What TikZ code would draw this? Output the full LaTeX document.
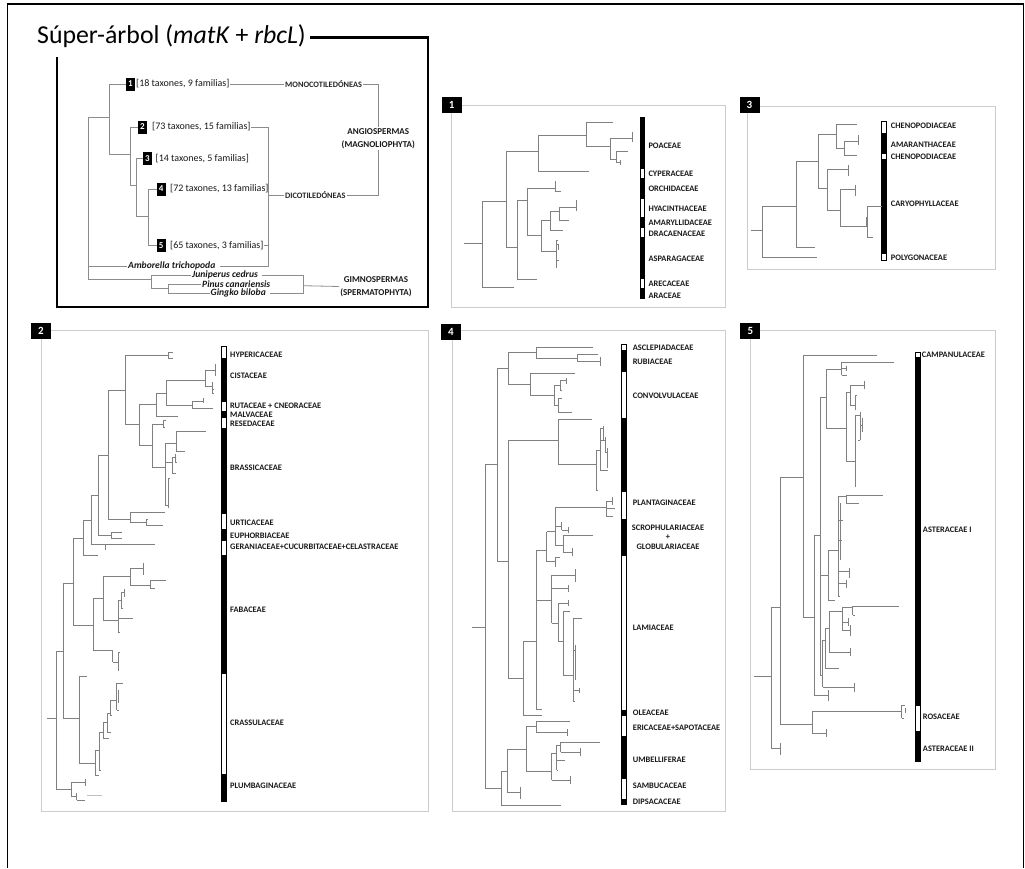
\documentclass[tikz,border=0pt]{standalone}
\usepackage{fontspec}
\setmainfont{Carlito}
\newcommand{\tbr}[5]{\draw[tree] (#3,#2) -| (#1,#4) -- (#5,#4);}
\newcommand{\thl}[3]{\draw[tree] (#2,#1) -- (#3,#1);}
\newcommand{\tvl}[3]{\draw[tree] (#1,#2) -- (#1,#3);}
\tikzset{
 tree/.style={draw=black!50, line width=0.6pt},
 stree/.style={draw=black!45, line width=0.8pt},
 pframe/.style={draw=black!20, line width=0.9pt},
 numbox/.style={fill=black, text=white, font=\bfseries\fontsize{11}{11}\selectfont, minimum width=20pt, minimum height=16pt, inner sep=0pt},
 snum/.style={fill=black, text=white, font=\bfseries\fontsize{9}{9}\selectfont, minimum width=9pt, minimum height=13pt, inner sep=0pt},
 fam/.style={font=\bfseries\fontsize{8.4}{9.5}\selectfont, anchor=west, inner sep=0pt, text=black!90},
 bB/.style={fill=black, draw=black, line width=0.5pt},
 bW/.style={fill=white, draw=black, line width=0.5pt},
 taxa/.style={font=\fontsize{10}{10}\selectfont, anchor=west, inner sep=0.5pt, text=black!90},
 clade/.style={font=\bfseries\fontsize{8.3}{8}\selectfont, inner sep=1pt, text=black!85},
 big/.style={font=\bfseries\fontsize{9}{13}\selectfont, align=center, inner sep=1pt, text=black!90},
 sp/.style={font=\bfseries\itshape\fontsize{9.6}{9.6}\selectfont, inner sep=0pt, anchor=west, text=black!90},
}
\begin{document}
\begin{tikzpicture}[x=1pt,y=-1pt]
\useasboundingbox (0,0) rectangle (1025,868);
\fill[white] (0,0) rectangle (1025,868);
% outer frame
\draw[line width=1.3pt] (7.5,868) -- (7.5,4) -- (1023.5,4) -- (1023.5,868);

% ================= SUPER-TREE =================
\node[anchor=base west, inner sep=0pt, font=\fontsize{25.8}{26}\selectfont] (title) at (37,43.3) {Súper-árbol (\textit{matK} + \textit{rbcL})};
\coordinate (tl) at (310,37.3);
\draw[line width=2.4pt] (tl) -- (428,37.3) -- (428,307) -- (57,307) -- (57,57);

\node[snum] (s1) at (130.5,84) {1};
\node[snum] (s2) at (142.5,127) {2};
\node[snum] (s3) at (147.5,158.3) {3};
\node[snum] (s4) at (161.2,189) {4};
\node[snum] (s5) at (161.2,245.7) {5};
\node[taxa] (l1) at (135.5,84) {[18 taxones, 9 familias]};
\node[taxa] (l2) at (151.5,127) {[73 taxones, 15 familias]};
\node[taxa] (l3) at (155,158.3) {[14 taxones, 5 familias]};
\node[taxa] (l4) at (169.5,189) {[72 taxones, 13 familias]};
\node[taxa] (l5) at (169.5,245.7) {[65 taxones, 3 familias]};
\node[sp] (amb) at (128,266) {Amborella trichopoda};
\node[sp] (jun) at (192,275) {Juniperus cedrus};
\node[sp] (pin) at (202,284) {Pinus canariensis};
\node[sp] (gin) at (210.5,292.9) {Gingko biloba};
\node[clade, anchor=west] (mono) at (284,84) {MONOCOTILEDÓNEAS};
\node[clade, anchor=west] (dico) at (284,195) {DICOTILEDÓNEAS};
\node[big] (angio) at (378.3,138.3) {ANGIOSPERMAS\\(MAGNOLIOPHYTA)};
\node[big] (gymno) at (376,286.5) {GIMNOSPERMAS\\(SPERMATOPHYTA)};

\draw[stree] (109,117.3) -- (88.3,117.3) -- (88.3,279.3) -- (151.7,279.3);
\draw[stree] (88.3,266) -- ([xshift=-1pt]amb.west);
\draw[stree] (s1.west) -| (109,154) -- (130,154);
\draw[stree] (s2.west) -| (130,185.7) -- (136,185.7);
\draw[stree] (s3.west) -| (136,216.7) -- (148.3,216.7);
\draw[stree] (s4.west) -| (148.3,245.7) -- (s5.west);
\draw[stree] ([xshift=-1pt]jun.west) -| (151.7,288.3) -- (168.3,288.3);
\draw[stree] ([xshift=-1pt]pin.west) -| (168.3,292.9) -- ([xshift=-1pt]gin.west);
\draw[stree] (l2.east) -- (268.3,127) -- (268.3,266) -- ([xshift=4pt]amb.east);
\draw[stree] (l4.east) -- (268.3,189);
\draw[stree] (l5.east) -- (268.3,245.7);
\draw[stree] (268.3,195) -- (dico.west);
\draw[stree] (dico.east) -- (378.3,195) -- (angio.south);
\draw[stree] (l1.east) -- (mono.west);
\draw[stree] (mono.east) -- (378.3,84) -- (angio.north);
\draw[stree] ([xshift=4pt]jun.east) -- (303.3,275) -- (303.3,292.9) -- ([xshift=4pt]gin.east);
\draw[stree] (303.3,285.7) -- (gymno.west);

% ================= PANEL FRAMES =================
\draw[pframe] (451.7,105.7) rectangle (725,307.7);
\draw[pframe] (747.3,106.7) rectangle (995,269.3);
\draw[pframe] (41.7,330.7) rectangle (428.3,811.7);
\draw[pframe] (452.7,330.7) rectangle (725,811.7);
\draw[pframe] (750,330.7) rectangle (995,769);
\node[numbox] (n1) at (451.7,104.5) {1};
\node[numbox] (n3) at (749.5,105) {3};
\node[numbox] (n2) at (41,331) {2};
\node[numbox] (n4) at (451,331.5) {4};
\node[numbox] (n5) at (750.3,331) {5};

% ================= PANEL 1 =================
\draw[bB] (640,117.7) rectangle (644.5,168.3);
\draw[bW] (640,168.3) rectangle (644.5,178.3);
\draw[bB] (640,178.3) rectangle (644.5,198.3);
\draw[bW] (640,198.3) rectangle (644.5,217.7);
\draw[bB] (640,217.7) rectangle (644.5,227.7);
\draw[bW] (640,227.7) rectangle (644.5,237.7);
\draw[bB] (640,237.7) rectangle (644.5,278.3);
\draw[bW] (640,278.3) rectangle (644.5,288.3);
\draw[bB] (640,288.3) rectangle (644.5,298.3);
\node[fam] (f1a) at (648.3,146) {POACEAE};
\node[fam] (f1b) at (648.3,174) {CYPERACEAE};
\node[fam] (f1c) at (648.3,188.3) {ORCHIDACEAE};
\node[fam] (f1d) at (648.3,208.3) {HYACINTHACEAE};
\node[fam] (f1e) at (648.3,222.3) {AMARYLLIDACEAE};
\node[fam] (f1f) at (648.3,234) {DRACAENACEAE};
\node[fam] (f1g) at (648.3,258.3) {ASPARAGACEAE};
\node[fam] (f1h) at (648.3,283.3) {ARECACEAE};
\node[fam] (f1i) at (648.3,295.7) {ARACEAE};
\thl{243.3}{464}{482.7}
\tbr{482.7}{201}{506.7}{287.7}{514}
\tbr{506.7}{151.7}{538.3}{247.3}{517.3}
\tbr{538.3}{135.7}{586.7}{171}{589}
\tbr{586.7}{122.7}{613.3}{146.7}{610}
\tbr{610}{138.3}{632.7}{159}{616}
\tvl{632.7}{131.7}{142.3}
\tbr{616}{151}{628.3}{162.3}{620}
\tvl{620}{160}{165}
\tbr{517.3}{200}{527.3}{279.3}{536.7}
\tbr{527.3}{188.3}{555}{235}{541.7}
\tvl{555}{181}{191.7}
\thl{191.7}{555}{560.7}
\tbr{541.7}{220}{550}{251}{556}
\tbr{550}{211.7}{559.3}{230}{563.3}
\tbr{559.3}{207.7}{576}{220}{569.3}
\tvl{576}{200}{211}
\tvl{556}{240}{268.3}
\thl{240}{556}{557.5}
\thl{244}{556}{558}
\thl{252}{556}{557}
\thl{260}{556}{558.5}
\tvl{558}{244}{250}

% ================= PANEL 3 =================
\draw[bW] (881.7,121) rectangle (886.7,133.3);
\draw[bB] (881.7,133.3) rectangle (886.7,153.3);
\draw[bW] (881.7,153.3) rectangle (886.7,159);
\draw[bB] (881.7,159) rectangle (886.7,253.3);
\draw[bW] (881.7,253.3) rectangle (886.7,260);
\node[fam] (f3a) at (890.7,126) {CHENOPODIACEAE};
\node[fam] (f3b) at (890.7,145) {AMARANTHACEAE};
\node[fam] (f3c) at (890.7,156.7) {CHENOPODIACEAE};
\node[fam] (f3d) at (890.7,203.3) {CARYOPHYLLACEAE};
\node[fam] (f3e) at (890.7,257.3) {POLYGONACEAE};
\thl{230}{750.7}{762.7}
\tbr{762.7}{206.7}{796}{257.3}{817.3}
\tbr{796}{161.7}{818.3}{247.7}{815}
\tbr{818.3}{134.3}{836}{188.3}{827.3}
\tbr{836}{124.3}{856.7}{148.3}{844}
\tbr{844}{141}{858.3}{155}{856.7}
\tvl{858.3}{135}{145}
\tbr{827.3}{169}{848.3}{210}{840}
\tvl{848.3}{165}{175.7}
\tbr{840}{189}{855}{226.7}{867.3}
\tvl{855}{185}{196}
\tbr{867.3}{206.7}{881.7}{237.7}{873.3}
\tvl{866}{217}{226}

% ================= PANEL 2 =================
\draw[bW] (221.7,346.7) rectangle (226.7,358.3);
\draw[bB] (221.7,358.3) rectangle (226.7,401);
\draw[bW] (221.7,401) rectangle (226.7,411);
\draw[bB] (221.7,411) rectangle (226.7,417);
\draw[bW] (221.7,417) rectangle (226.7,428.3);
\draw[bB] (221.7,428.3) rectangle (226.7,513.3);
\draw[bW] (221.7,513.3) rectangle (226.7,529);
\draw[bB] (221.7,529) rectangle (226.7,540);
\draw[bW] (221.7,540) rectangle (226.7,555.7);
\draw[bB] (221.7,555.7) rectangle (226.7,673.3);
\draw[bW] (221.7,673.3) rectangle (226.7,774);
\draw[bB] (221.7,774) rectangle (226.7,801);
\node[fam] (f2a) at (230,354.3) {HYPERICACEAE};
\node[fam] (f2b) at (230,376) {CISTACEAE};
\node[fam] (f2c) at (230,406) {RUTACEAE + CNEORACEAE};
\node[fam] (f2d) at (230,414.3) {MALVACEAE};
\node[fam] (f2e) at (230,423.7) {RESEDACEAE};
\node[fam] (f2f) at (230,467.7) {BRASSICACEAE};
\node[fam] (f2g) at (230,522.3) {URTICACEAE};
\node[fam] (f2h) at (230,535.3) {EUPHORBIACEAE};
\node[fam] (f2i) at (230,546.7) {GERANIACEAE+CUCURBITACEAE+CELASTRACEAE};
\node[fam] (f2j) at (230,610) {FABACEAE};
\node[fam] (f2k) at (230,722.3) {CRASSULACEAE};
\node[fam] (f2l) at (230,786) {PLUMBAGINACEAE};
\thl{718.3}{46.7}{56.7}
\tbr{56.7}{651}{63.3}{789.3}{71.7}
\tbr{71.7}{782.7}{85}{796.7}{76.7}
\tvl{85}{779}{786}
\tvl{76.7}{793}{800}
\thl{800}{76.7}{85}
\draw[draw=black!25, line width=0.5pt] (87,795) -- (102,795);
\tbr{63.3}{583.3}{73.3}{718.3}{79.3}
\tbr{79.3}{676}{86.7}{763.3}{95}
\tvl{95}{750}{775}
\thl{775}{95}{99}
\thl{750}{95}{99}
\tvl{99}{732}{770}
\thl{770}{99}{101}
\thl{732}{99}{103.3}
\tvl{103.3}{722}{738}
\thl{738}{103.3}{108.5}
\thl{722}{103.3}{107.3}
\tvl{107.3}{713}{732}
\thl{732}{107.3}{111}
\thl{713}{107.3}{110}
\tvl{110}{700}{715}
\thl{715}{110}{112}
\thl{700}{110}{116.7}
\tvl{116.7}{683}{710}
\thl{710}{116.7}{119}
\thl{683}{116.7}{123.3}
\tvl{118}{690}{703}
\tbr{73.3}{538.3}{83.3}{625}{93.3}
\tbr{93.3}{598.3}{103.3}{650.7}{112.7}
\tbr{103.3}{576.7}{130}{620}{118}
\tbr{130}{568.3}{143.3}{585}{150}
\tvl{143.3}{563}{575}
\tbr{150}{580.5}{166}{588}{155}
\tvl{118}{600}{632}
\thl{600}{118}{121}
\tvl{121}{592}{608}
\thl{592}{121}{124}
\tvl{124}{589}{597}
\thl{608}{121}{123}
\thl{618}{118}{133}
\thl{632}{118}{120}
\tvl{112.7}{650.7}{662}
\thl{662}{112.7}{118.3}
\tvl{118.3}{652}{670}
\thl{652}{118.3}{120}
\thl{670}{118.3}{119}
\tbr{83.3}{520}{91.7}{555.7}{98.3}
\tbr{91.7}{495}{98.3}{544.3}{105}
\thl{544.3}{105}{155}
\tvl{105}{544.3}{550}
\tbr{98.3}{455}{108.3}{535.7}{111.7}
\tbr{111.7}{532}{121.7}{538}{121.7}
\tbr{108.3}{390}{125}{519}{130.7}
\tbr{130.7}{512.7}{165}{522}{146}
\tvl{146}{519}{525}
\thl{525}{146}{162.7}
\thl{519}{146}{148}
\tbr{125}{355}{168.3}{424.3}{139.3}
\tbr{168.3}{352}{173}{358}{173}
\tbr{139.3}{404.3}{156.7}{445.7}{152.7}
\tbr{156.7}{393.3}{166.7}{416.7}{178.3}
\tbr{166.7}{380}{205.7}{405}{192.3}
\tbr{205.7}{370}{215}{386.7}{212}
\tvl{215}{364}{376}
\tvl{212}{382}{393}
\thl{393}{212}{214}
\thl{389}{212}{213.5}
\tbr{192.3}{401}{203}{408}{213.3}
\tvl{203}{398}{403}
\tbr{152.7}{424.3}{163.3}{467.7}{165}
\tbr{163.3}{420.7}{166}{427}{165}
\tvl{165}{443.3}{505}
\thl{443.3}{165}{176}
\tbr{176}{431.7}{206}{451.7}{185}
\thl{462}{165}{172}
\tvl{172}{457}{473}
\thl{457}{172}{175}
\tvl{175}{454}{462}
\thl{462}{175}{177}
\thl{473}{172}{176}
\thl{505}{165}{168}
\tvl{168}{478}{508}
\thl{478}{168}{170}

% ================= PANEL 4 =================
\draw[bW] (621.7,344.3) rectangle (626.7,350);
\draw[bB] (621.7,350) rectangle (626.7,371);
\draw[bW] (621.7,371) rectangle (626.7,418.3);
\draw[bB] (621.7,418.3) rectangle (626.7,491.7);
\draw[bW] (621.7,491.7) rectangle (626.7,519);
\draw[bB] (621.7,519) rectangle (626.7,555.7);
\draw[bW] (621.7,555.7) rectangle (626.7,710);
\draw[bB] (621.7,710) rectangle (626.7,715);
\draw[bW] (621.7,715) rectangle (626.7,736);
\draw[bB] (621.7,736) rectangle (626.7,778.3);
\draw[bW] (621.7,778.3) rectangle (626.7,799.3);
\draw[bB] (621.7,799.3) rectangle (626.7,804);
\node[fam] (f4a) at (632.7,347.3) {ASCLEPIADACEAE};
\node[fam] (f4b) at (632.7,361.7) {RUBIACEAE};
\node[fam] (f4c) at (632.7,395.7) {CONVOLVULACEAE};
\node[fam] (f4d) at (632.7,502.7) {PLANTAGINACEAE};
\node[fam, align=center] (f4e) at (631.7,537) {SCROPHULARIACEAE\\+\\GLOBULARIACEAE};
\node[fam] (f4f) at (632.7,627.3) {LAMIACEAE};
\node[fam] (f4g) at (632.7,712.3) {OLEACEAE};
\node[fam] (f4h) at (632.7,727.3) {ERICACEAE+SAPOTACEAE};
\node[fam] (f4i) at (632.7,759.3) {UMBELLIFERAE};
\node[fam] (f4j) at (632.7,785.7) {SAMBUCACEAE};
\node[fam] (f4k) at (632.7,801.7) {DIPSACACEAE};
\thl{627.3}{471.7}{485}
\tbr{485}{464.3}{497.3}{788.3}{501.7}
\tbr{497.3}{368.3}{508.3}{561.7}{508.3}
\tbr{508.3}{352.3}{536.7}{384.3}{530}
\tbr{536.7}{347.7}{593.3}{358.3}{577.3}
\tbr{577.3}{354.3}{598.3}{361.7}{600.7}
\tvl{600.7}{357}{366}
\tbr{530}{373.3}{575}{395}{554}
\tbr{554}{385}{560}{405}{558}
\tbr{560}{380}{566.7}{390}{562}
\tvl{566.7}{378}{384}
\tbr{558}{398}{562}{412}{571.7}
\tbr{508.3}{440}{558.3}{678.3}{523.3}
\tbr{558.3}{419}{591.7}{464.3}{596}
\tvl{596}{450}{490}
\thl{450}{596}{600}
\tvl{600}{428}{470}
\thl{428}{600}{603}
\tvl{603}{426}{440}
\thl{440}{600}{605}
\tvl{605}{437}{452}
\thl{452}{605}{607}
\tvl{607}{448}{468}
\thl{470}{600}{608}
\thl{490}{596}{597.5}
\tbr{523.3}{641.7}{536}{715}{541.7}
\tvl{536}{550}{709}
\thl{709}{536}{541.7}
\thl{550}{536}{546.7}
\tvl{546.7}{531.7}{561.7}
\thl{531.7}{546.7}{555}
\tvl{555}{507.7}{545}
\thl{507.7}{555}{606}
\tvl{606}{501.7}{516.7}
\thl{501.7}{606}{612}
\thl{508}{606}{615}
\thl{516.7}{606}{613}
\tvl{612}{497}{505}
\thl{526}{555}{561.7}
\tvl{561.7}{522}{530}
\thl{530}{561.7}{568.3}
\tvl{568.3}{527}{533}
\thl{545}{555}{563.3}
\tvl{563.3}{535}{552}
\thl{535}{563.3}{593.3}
\thl{552}{563.3}{572.7}
\tvl{572.7}{548}{556}
\thl{561.7}{546.7}{555}
\tvl{555}{557}{567}
\thl{557}{555}{560}
\thl{600}{536}{551.7}
\tvl{551.7}{575}{623.3}
\thl{575}{551.7}{575}
\tvl{575}{569}{582}
\thl{588}{551.7}{568.3}
\tvl{568.3}{585}{592}
\thl{623.3}{551.7}{558.3}
\tvl{558.3}{603}{641.7}
\thl{603}{558.3}{568.3}
\tvl{568.3}{600}{606}
\thl{641.7}{558.3}{563.3}
\tvl{563.3}{611.7}{675}
\thl{611.7}{563.3}{570}
\thl{675}{563.3}{573.3}
\tvl{573.3}{618.3}{701.7}
\thl{618.3}{573.3}{581.7}
\thl{650}{573.3}{575}
\tvl{575}{645}{680}
\thl{690}{573.3}{579}
\tvl{579}{688}{693}
\thl{701.7}{573.3}{575}
\tbr{501.7}{771.7}{507.3}{805}{560.7}
\tbr{507.3}{749.3}{526}{792.7}{520.7}
\tvl{520.7}{787}{799}
\tbr{526}{726}{536.7}{771.7}{551.7}
\tbr{536.7}{721.7}{570}{732.7}{567.7}
\tvl{567.7}{729}{736}
\tvl{551.7}{753.3}{780}
\thl{753.3}{551.7}{556.7}
\tvl{556.7}{745}{770}
\thl{745}{556.7}{560.7}
\tvl{560.7}{742}{752}
\thl{742}{560.7}{600}
\thl{752}{560.7}{580}
\tvl{580}{748}{756}
\thl{760}{556.7}{565}
\thl{770}{556.7}{558}
\thl{780}{551.7}{570.7}
\tvl{570.7}{776}{784}

% ================= PANEL 5 =================
\draw[bW] (915.7,352.3) rectangle (920,357.7);
\draw[bB] (915.7,357.7) rectangle (920,705);
\draw[bW] (915.7,705) rectangle (920,731);
\draw[bB] (915.7,731) rectangle (920,761);
\node[fam] (f5a) at (921.7,354.3) {CAMPANULACEAE};
\node[fam] (f5b) at (922.7,530) {ASTERACEAE I};
\node[fam] (f5c) at (922.7,716.7) {ROSACEAE};
\node[fam] (f5d) at (922.7,748.3) {ASTERACEAE II};
\thl{676}{754}{771.7}
\tbr{771.7}{607.7}{780}{748.3}{780}
\tvl{780}{743}{755}
\tbr{780}{477.7}{803.3}{724.3}{812.7}
\tbr{812.7}{711.7}{901.7}{733.3}{826}
\tvl{901.7}{705}{718}
\thl{705}{901.7}{905}
\thl{718}{901.7}{904}
\tvl{905}{708}{713}
\tvl{826}{729}{737}
\tbr{803.3}{355.7}{877.3}{617.7}{814}
\tbr{814}{535}{820}{695.7}{828.3}
\tvl{828.3}{690}{701}
\tvl{820}{397.7}{675}
\thl{397.7}{820}{826}
\tbr{826}{369}{841.7}{428.3}{846.7}
\tvl{841.7}{362.3}{375}
\thl{362.3}{841.7}{894}
\thl{368}{841.7}{846}
\thl{375}{841.7}{847}
\tvl{846}{366}{371}
\tvl{846.7}{392.3}{461.7}
\thl{392.3}{846.7}{850}
\tvl{850}{385}{405}
\thl{385}{850}{864}
\tvl{864}{381}{389}
\thl{405}{850}{855}
\tvl{855}{395}{410}
\thl{395}{855}{857}
\thl{461.7}{846.7}{855}
\tvl{855}{415}{486.7}
\thl{415}{855}{860}
\tvl{860}{412}{440}
\thl{425}{860}{862}
\tvl{862}{418}{432}
\thl{440}{860}{858}
\thl{575}{820}{828.3}
\tvl{828.3}{550}{600}
\thl{550}{828.3}{838.3}
\thl{600}{828.3}{835}
\tvl{838.3}{496.7}{596.7}
\thl{496.7}{838.3}{846}
\tvl{846}{495}{503}
\thl{495}{846}{883.3}
\thl{503}{846}{859.3}
\tvl{840.5}{503}{560}
\thl{520}{838.3}{843}
\thl{540}{838.3}{842}
\thl{571.7}{838.3}{849.3}
\tvl{849.3}{568}{578}
\thl{583.3}{838.3}{846}
\tvl{846}{580}{588}
\thl{596.7}{838.3}{840}
\thl{675}{820}{822.7}
\tvl{822.7}{640}{687.3}
\thl{687.3}{822.7}{854}
\tvl{854}{683}{692}
\thl{640}{822.7}{825}
\tvl{825}{628}{668}
\thl{668}{825}{839.3}
\thl{628}{825}{829.3}
\tvl{829.3}{611.7}{652}
\thl{652}{829.3}{850}
\tvl{850}{648}{656}
\thl{611.7}{829.3}{842}
\tvl{842}{607}{630}
\thl{607}{842}{852.7}
\tvl{852.7}{606}{615}
\thl{606.7}{852.7}{899.3}
\thl{615}{852.7}{855}
\thl{630}{842}{850}
\tvl{850}{625}{636}
\thl{622}{842}{848}
\tvl{848}{618}{626}
\end{tikzpicture}
\end{document}
